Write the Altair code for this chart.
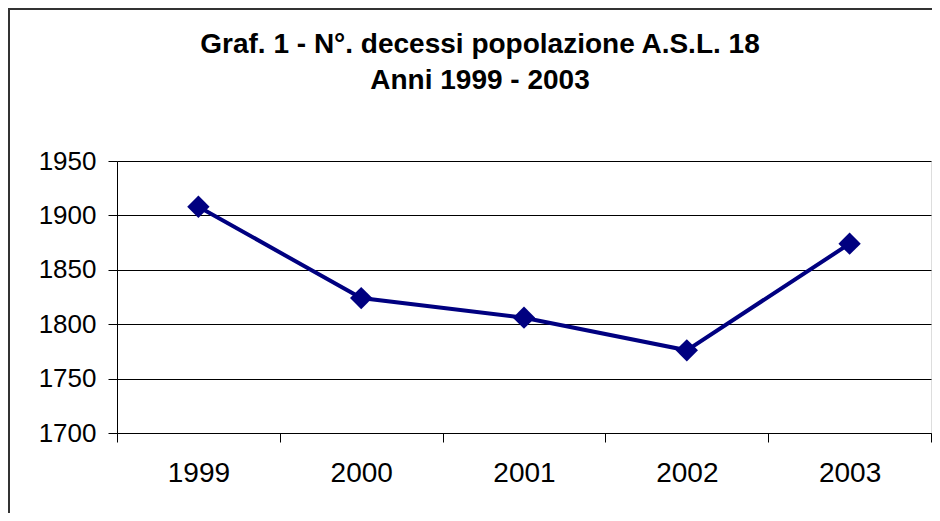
import altair as alt
import pandas as pd

years = ["1999", "2000", "2001", "2002", "2003"]
deaths = [1908, 1824, 1806, 1776, 1874]
title_line1 = "Graf. 1 - N°. decessi popolazione A.S.L. 18"
title_line2 = "Anni 1999 - 2003"
y_ticks = [1700, 1750, 1800, 1850, 1900, 1950]

df = pd.DataFrame({"year": years, "deaths": deaths})
FONT = "Liberation Sans"
NAVY = "#000080"

x_enc = alt.X(
    "year:O",
    scale=alt.Scale(type="band", paddingInner=0, paddingOuter=0),
    bandPosition=0.5,
    axis=alt.Axis(
        title=None, labelAngle=0, tickBand="extent", grid=False,
        labelFont=FONT, labelFontSize=28, labelColor="black",
        labelPadding=17, tickSize=9, tickColor="black",
        domainColor="black", domainWidth=1,
    ),
)
y_enc = alt.Y(
    "deaths:Q",
    scale=alt.Scale(domain=[1700, 1950], nice=False, zero=False),
    axis=alt.Axis(
        title=None, values=y_ticks, format="d", grid=True, gridColor="black",
        gridOpacity=1, gridWidth=1, labelFont=FONT, labelFontSize=26,
        labelColor="black", labelPadding=12, tickSize=9, tickColor="black",
        domainColor="black", domainWidth=1,
    ),
)

base = alt.Chart(df)
line = base.mark_line(color=NAVY, strokeWidth=4).encode(x=x_enc, y=y_enc)
pts = base.mark_point(shape="diamond", filled=True, size=500, color=NAVY, opacity=1).encode(
    x=x_enc, y=y_enc
)

one = pd.DataFrame({"a": [0]})
border = alt.Chart(one).mark_rect(
    filled=False, stroke="#333333", strokeWidth=2
).encode(
    x=alt.value(-108), x2=alt.value(900), y=alt.value(-152), y2=alt.value(420)
)

t1 = alt.Chart(one).mark_text(
    text=title_line1, font=FONT, fontSize=28, fontWeight="bold", color="black",
    align="center", baseline="alphabetic",
).encode(x=alt.value(363), y=alt.value(-108))
t2 = alt.Chart(one).mark_text(
    text=title_line2, font=FONT, fontSize=28, fontWeight="bold", color="black",
    align="center", baseline="alphabetic",
).encode(x=alt.value(363), y=alt.value(-72))

chart = (
    alt.layer(border, t1, t2, line, pts)
    .properties(
        width=814,
        height=272,
        autosize=alt.AutoSizeParams(type="none"),
        padding={"left": 109, "top": 153, "right": 1, "bottom": 80},
    )
    .configure_view(stroke=None)
    .configure(background="white")
)

chart.save("out.html", embed_options={"renderer": "svg", "actions": False})
